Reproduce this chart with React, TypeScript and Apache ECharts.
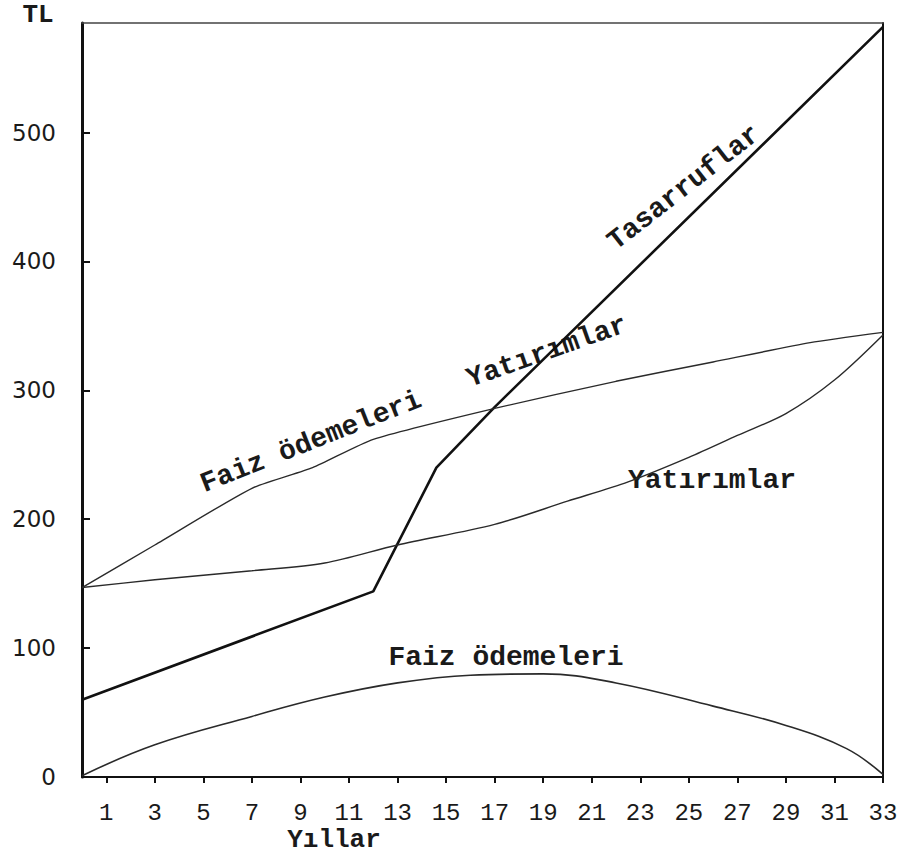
import React, { useEffect, useRef } from "react";
import * as echarts from "echarts";

// ---- data ----
const xTickYears = [1, 3, 5, 7, 9, 11, 13, 15, 17, 19, 21, 23, 25, 27, 29, 31, 33];
const yTickValues = [0, 100, 200, 300, 400, 500];
const yInnerTicks = [100, 200, 300, 400, 500];

const tasarrufYears = [0, 12, 14.6, 17, 33];
const tasarrufValues = [60, 144, 240, 287, 582];

const faizUstYears = [0, 3, 7, 9.5, 12, 17, 22, 26, 30, 33];
const faizUstValues = [147, 180, 224, 240, 262, 286, 307, 322, 337, 345];

const yatirimYears = [0, 3, 7, 10, 13, 17, 20, 22.5, 25, 27, 29, 31, 33];
const yatirimValues = [147, 153, 160, 166, 180, 196, 214, 229, 248, 265, 282, 308, 343];

const faizAltYears = [0, 3, 7, 10, 13, 16, 19, 22, 26, 29, 31.5, 33];
const faizAltValues = [1, 25, 47, 62, 73, 79, 80, 73, 55, 40, 22, 2];

const X_MIN = 0;
const X_MAX = 33;
const Y_MIN = 0;
const Y_MAX = 585;

const pairs = (xs: number[], ys: number[]) => xs.map((x, i) => [x, ys[i]]);

const MONO = "'Liberation Mono', 'DejaVu Sans Mono', monospace";
const deg = (d: number) => (d * Math.PI) / 180;

export default function App() {
  const ref = useRef<HTMLDivElement>(null);

  useEffect(() => {
    if (!ref.current) return;
    const chart = echarts.init(ref.current, null, { renderer: "svg" });

    const textStyle = (text: string, size: number, weight = "bold") => ({
      text,
      fill: "#1a1a1a",
      font: `${weight} ${size}px ${MONO}`,
      align: "center",
      verticalAlign: "middle",
    });

    chart.setOption({
      animation: false,
      backgroundColor: "#ffffff",
      grid: { left: 82, right: 22, top: 23, bottom: 77, containLabel: false },
      xAxis: [
        {
          type: "value",
          min: X_MIN,
          max: X_MAX,
          position: "bottom",
          axisLine: { show: true, onZero: false, lineStyle: { color: "#111", width: 2 } },
          axisTick: {
            show: true,
            length: 6,
            customValues: xTickYears,
            lineStyle: { color: "#111", width: 2 },
          },
          axisLabel: {
            show: true,
            customValues: xTickYears,
            margin: 24,
            color: "#1a1a1a",
            fontFamily: MONO,
            fontSize: 24,
          },
          splitLine: { show: false },
        },
        {
          type: "value",
          min: X_MIN,
          max: X_MAX,
          position: "top",
          axisLine: { show: true, onZero: false, lineStyle: { color: "#444", width: 1.5 } },
          axisTick: { show: false },
          axisLabel: { show: false },
          splitLine: { show: false },
        },
      ],
      yAxis: [
        {
          type: "value",
          min: Y_MIN,
          max: Y_MAX,
          position: "left",
          axisLine: { show: true, onZero: false, lineStyle: { color: "#111", width: 3 } },
          axisTick: {
            show: true,
            inside: true,
            length: 8,
            customValues: yInnerTicks,
            lineStyle: { color: "#111", width: 2 },
          },
          axisLabel: {
            show: true,
            customValues: yTickValues,
            margin: 26,
            color: "#1a1a1a",
            fontFamily: "'DejaVu Sans', sans-serif",
            fontSize: 23,
          },
          splitLine: { show: false },
        },
        {
          type: "value",
          min: Y_MIN,
          max: Y_MAX,
          position: "right",
          axisLine: { show: true, onZero: false, lineStyle: { color: "#111", width: 2 } },
          axisTick: { show: false },
          axisLabel: { show: false },
          splitLine: { show: false },
        },
      ],
      series: [
        {
          name: "Tasarruflar",
          type: "line",
          data: pairs(tasarrufYears, tasarrufValues),
          showSymbol: false,
          lineStyle: { color: "#111", width: 2.6 },
        },
        {
          name: "Faiz ödemeleri (üst)",
          type: "line",
          data: pairs(faizUstYears, faizUstValues),
          showSymbol: false,
          smooth: 0.2,
          lineStyle: { color: "#2a2a2a", width: 1.4 },
        },
        {
          name: "Yatırımlar",
          type: "line",
          data: pairs(yatirimYears, yatirimValues),
          showSymbol: false,
          smooth: 0.3,
          lineStyle: { color: "#2a2a2a", width: 1.4 },
        },
        {
          name: "Faiz ödemeleri",
          type: "line",
          data: pairs(faizAltYears, faizAltValues),
          showSymbol: false,
          smooth: 0.4,
          lineStyle: { color: "#2a2a2a", width: 1.6 },
        },
      ],
      graphic: [
        { type: "text", x: 38, y: 15, style: textStyle("TL", 26) },
        { type: "text", x: 311, y: 442, rotation: deg(21.5), style: textStyle("Faiz ödemeleri", 28) },
        { type: "text", x: 547, y: 352, rotation: deg(19.5), style: textStyle("Yatırımlar", 28) },
        { type: "text", x: 684, y: 188, rotation: deg(38), style: textStyle("Tasarruflar", 28) },
        { type: "text", x: 712, y: 480, style: textStyle("Yatırımlar", 28) },
        { type: "text", x: 506, y: 657, style: textStyle("Faiz ödemeleri", 28) },
        { type: "text", x: 334, y: 840, style: textStyle("Yıllar", 26) },
      ],
    });

    return () => chart.dispose();
  }, []);

  return (
    <div
      ref={ref}
      style={{ position: "absolute", left: 0, top: 0, width: 905, height: 854, background: "#fff" }}
    />
  );
}
